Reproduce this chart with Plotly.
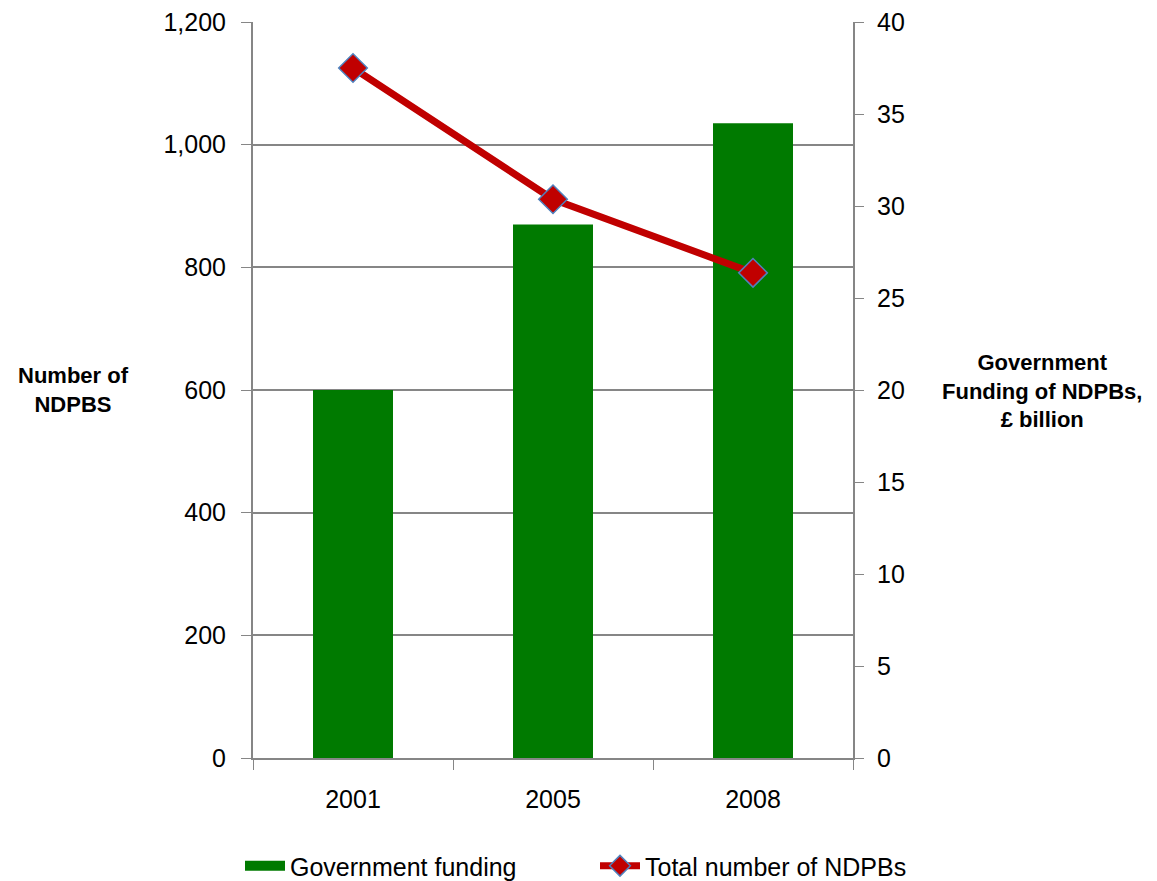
import plotly.graph_objects as go

years = ["2001", "2005", "2008"]
funding_bn = [20.0, 29.0, 34.5]
ndpb_count = [1125, 911, 791]

left_ticks = [0, 200, 400, 600, 800, 1000, 1200]
right_ticks = [0, 5, 10, 15, 20, 25, 30, 35, 40]

FONT = "Liberation Sans"
GRID = "#868686"
GREEN = "#007A00"

# the page body adds an 8px offset; lay out in figure coordinates
OFF = 8
W, H = 1157 - OFF, 881 - OFF
PL, PT, PW, PH = 253 - OFF, 22 - OFF, 600, 736

fig = go.Figure()
fig.add_trace(go.Bar(
    x=years, y=funding_bn, name="Government funding",
    marker=dict(color=GREEN, line=dict(width=0)),
    width=0.4, yaxis="y", showlegend=False,
))
# legend entry for bars (wide green swatch like the original)
fig.add_trace(go.Scatter(
    x=[None], y=[None], name="Government funding", mode="lines",
    line=dict(color=GREEN, width=16), yaxis="y", hoverinfo="skip",
))
fig.add_trace(go.Scatter(
    x=years, y=ndpb_count, name="Total number of NDPBs",
    mode="lines+markers",
    line=dict(color="#C00000", width=7),
    marker=dict(symbol="diamond", size=22, color="#C00000",
                line=dict(color="#4F81BD", width=1.5)),
    yaxis="y2",
))

fig.update_layout(
    width=W, height=H,
    margin=dict(l=PL, r=W - PL - PW, t=PT, b=H - PT - PH, autoexpand=False),
    paper_bgcolor="white", plot_bgcolor="white",
    font=dict(family=FONT, size=25, color="#000000"),
    showlegend=True,
    legend=dict(orientation="h", x=(240 - 253) / PW, xanchor="left",
                y=-(866 - 758) / PH, yanchor="middle",
                font=dict(family=FONT, size=25), itemwidth=40, tracegroupgap=0,
                entrywidth=300, entrywidthmode="pixels",
                bgcolor="rgba(0,0,0,0)"),
    xaxis=dict(type="category", tickson="boundaries", ticks="outside", ticklen=10,
               tickcolor=GRID, linecolor=GRID, linewidth=2, showline=True,
               showgrid=False, tickfont=dict(size=25), ticklabelstandoff=18),
    yaxis=dict(side="right", range=[0, 40], tickvals=right_ticks,
               ticks="outside", ticklen=9, tickcolor=GRID,
               showline=True, linecolor=GRID, linewidth=2, showgrid=False,
               zeroline=False, tickfont=dict(size=25), ticklabelstandoff=8,
               ticklabeloverflow="allow"),
    yaxis2=dict(side="left", overlaying="y", range=[0, 1200], tickvals=left_ticks,
                tickformat=",", ticks="outside", ticklen=10, tickcolor=GRID,
                showline=True, linecolor=GRID, linewidth=2,
                showgrid=True, gridcolor=GRID, gridwidth=2,
                zeroline=False, tickfont=dict(size=25), ticklabelstandoff=10,
                ticklabeloverflow="allow"),
    annotations=[
        dict(text="<b>Number of<br>NDPBS</b>", xref="paper", yref="paper",
             x=(73.5 - 253) / PW, y=(758 - 390) / PH, xanchor="center", yanchor="middle",
             showarrow=False, font=dict(family=FONT, size=22)),
        dict(text="<b>Government<br>Funding of NDPBs,<br>£ billion</b>", xref="paper", yref="paper",
             x=(1042 - 253) / PW, y=(758 - 391) / PH, xanchor="center", yanchor="middle",
             showarrow=False, font=dict(family=FONT, size=22)),
    ],
)

fig.write_html("out.html")
